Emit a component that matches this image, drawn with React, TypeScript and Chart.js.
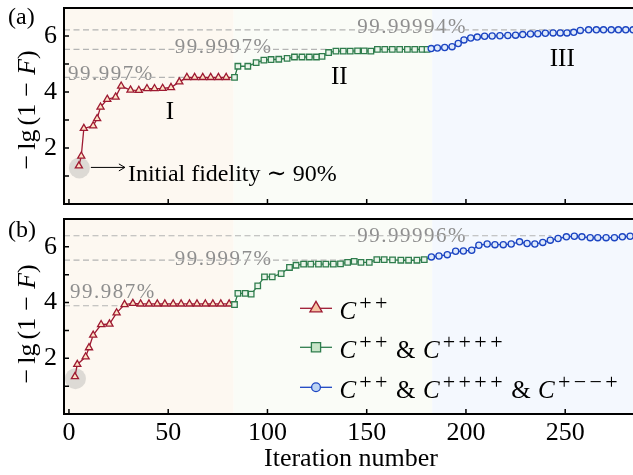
import React, { useEffect, useRef } from "react";
import { Chart, registerables } from "chart.js";

Chart.register(...registerables);

const SERIF = '"Liberation Serif", "Times New Roman", "DejaVu Serif", serif';

// ---------- panel (a) ----------
const aStage1X = [5, 6.2, 7.5, 12.2, 14.2, 15.9, 19.3, 23.5, 26.3, 31, 35.2, 39.3, 43.1, 47.2, 51.4, 55.6, 59.4, 63.3, 67.4, 71.4, 75.3, 79.2];
const aStage1Y = [1.36, 1.71, 2.7, 2.79, 3.05, 3.46, 3.74, 3.82, 4.21, 4.07, 4.06, 4.12, 4.12, 4.13, 4.16, 4.36, 4.52, 4.52, 4.52, 4.52, 4.52, 4.52];
const aStage2X = [83.4, 85.1, 90.1, 94.3, 98.2, 101.8, 105.7, 109.9, 113.6, 117.4, 121.1, 124.7, 127.5, 130.8, 134.5, 138.2, 141.7, 145.4, 148.7, 152.1, 155.4, 159.1, 162.9, 166.6, 170.5, 174.2, 177.9, 180.4];
const aStage2Y = [4.52, 4.92, 4.92, 5.05, 5.14, 5.16, 5.17, 5.2, 5.25, 5.25, 5.25, 5.25, 5.27, 5.41, 5.46, 5.46, 5.46, 5.47, 5.47, 5.46, 5.52, 5.52, 5.52, 5.52, 5.52, 5.52, 5.52, 5.52];
const aStage3X = [182.5, 185.6, 189.3, 193, 196.1, 199, 202.4, 205.7, 209.4, 213.2, 217.1, 221.1, 225, 228.6, 232.5, 236.2, 240, 243.9, 247.5, 250.9, 254.3, 257.6, 261.8, 265.7, 269.3, 273.2, 276.8, 280.5, 284.2];
const aStage3Y = [5.55, 5.57, 5.59, 5.62, 5.73, 5.86, 5.93, 5.96, 5.99, 6.0, 6.01, 6.02, 6.03, 6.05, 6.07, 6.08, 6.1, 6.11, 6.11, 6.11, 6.13, 6.2, 6.22, 6.22, 6.22, 6.22, 6.22, 6.22, 6.22];
const aFidelities = ["99.997", "99.9997", "99.99994"];

// ---------- panel (b) ----------
const bStage1X = [3.0, 4.2, 8.4, 10.1, 12.2, 16.2, 20.4, 24, 28, 32.2, 36.1, 40.3, 44.5, 48.3, 52.5, 56.5, 60.7, 64.5, 68.7, 72.5, 76.5, 80.7];
const bStage1Y = [1.34, 1.78, 2.05, 2.38, 2.83, 3.21, 3.23, 3.63, 3.93, 3.97, 3.95, 3.95, 3.95, 3.95, 3.95, 3.95, 3.95, 3.95, 3.95, 3.95, 3.95, 3.95];
const bStage2X = [83.4, 85.1, 88.8, 91.8, 95.1, 98.5, 102.4, 106.9, 111.1, 114.4, 118.2, 121.8, 125.7, 129.4, 133.2, 136.8, 140.4, 143.7, 147.1, 151.3, 155.1, 158.8, 163, 167.2, 171.1, 175.3, 179];
const bStage2Y = [3.93, 4.33, 4.33, 4.3, 4.6, 4.92, 4.92, 5.04, 5.26, 5.34, 5.38, 5.38, 5.38, 5.38, 5.38, 5.39, 5.44, 5.48, 5.44, 5.44, 5.54, 5.54, 5.53, 5.52, 5.52, 5.52, 5.54];
const bStage3X = [182.6, 186.4, 190.6, 194.8, 198.7, 202.9, 206.5, 210.7, 214.6, 218.8, 222.8, 227, 230.8, 234.7, 238.7, 242.5, 246.4, 250.6, 254.6, 258.4, 262.6, 266.4, 270.6, 274.8, 278.8, 282.7];
const bStage3Y = [5.64, 5.67, 5.72, 5.84, 5.85, 5.88, 6.06, 6.1, 6.08, 6.08, 6.1, 6.18, 6.12, 6.1, 6.16, 6.24, 6.3, 6.36, 6.38, 6.36, 6.33, 6.33, 6.33, 6.33, 6.36, 6.38];
const bFidelities = ["99.987", "99.9997", "99.99996"];

// ---------- shared axes ----------
const xTicks = [0, 50, 100, 150, 200, 250];
const yTicks = [1, 2, 3, 4, 5, 6];
const yTickLabels = [2, 4, 6];
const stageEdges = [83, 183];
const stageNames = ["I", "II", "III"];
const legendSigns = [["++"], ["++", "++++"], ["++", "++++", "+\u2212\u2212+"]];

const X_MIN = -2.5;
const X_MAX = 290;

const STYLE = [
  { color: "#9e1a32", fill: "#fde2c6", legendFill: "#f6c2a2", shape: "triangle", r: 4.1, lr: 7 },
  { color: "#2f7d4d", fill: "#eaf5ea", legendFill: "#c8e5c8", shape: "rect", r: 3.9, lr: 6.5 },
  { color: "#1c45c2", fill: "#dfeafb", legendFill: "#bcd4f3", shape: "circle", r: 3.1, lr: 4.4 },
];
const SHADES = ["#fdf8f1", "#fafcf7", "#f4f8fe"];

type Run = { t?: string; font?: string; w?: number; gap?: number; dy?: number };

function runsWidth(ctx: CanvasRenderingContext2D, runs: Run[]) {
  let w = 0;
  for (const r of runs) {
    if (r.gap) { w += r.gap; continue; }
    ctx.font = r.font!;
    w += r.w ?? ctx.measureText(r.t!).width;
  }
  return w;
}

function drawRuns(ctx: CanvasRenderingContext2D, runs: Run[], x0: number, y0: number) {
  let x = x0;
  ctx.textAlign = "left";
  ctx.textBaseline = "alphabetic";
  for (const r of runs) {
    if (r.gap) { x += r.gap; continue; }
    ctx.font = r.font!;
    const m = ctx.measureText(r.t!).width;
    const w = r.w ?? m;
    ctx.fillText(r.t!, x + (w - m) / 2, y0 + (r.dy ?? 0));
    x += w;
  }
  return x;
}

function drawMarker(ctx: CanvasRenderingContext2D, shape: string, cx: number, cy: number, r: number, stroke: string, fill: string) {
  ctx.beginPath();
  if (shape === "triangle") {
    for (let k = 0; k < 3; k++) {
      const a = -Math.PI / 2 + (k * 2 * Math.PI) / 3;
      const px = cx + r * Math.cos(a);
      const py = cy + r * Math.sin(a);
      if (k === 0) ctx.moveTo(px, py); else ctx.lineTo(px, py);
    }
    ctx.closePath();
  } else if (shape === "rect") {
    const s = r * Math.SQRT1_2;
    ctx.rect(cx - s, cy - s, 2 * s, 2 * s);
  } else {
    ctx.arc(cx, cy, r, 0, Math.PI * 2);
  }
  ctx.fillStyle = fill;
  ctx.fill();
  ctx.strokeStyle = stroke;
  ctx.lineWidth = 1.3;
  ctx.stroke();
}

type PanelSpec = {
  tag: string;
  xs: number[][];
  ys: number[][];
  fidelities: string[];
  refLabelX: number[];
  refLabelDy: number[];
  refEnd: number[];
  padTop: number;
  padBottom: number;
  height: number;
  titleY: number;
  tagY: number;
  bottomAxis: boolean;
  stageTags: { x: number; y: number }[] | null;
  initialNote: boolean;
  legend: boolean;
};

const panelA: PanelSpec = {
  tag: "(a)",
  xs: [aStage1X, aStage2X, aStage3X],
  ys: [aStage1Y, aStage2Y, aStage3Y],
  fidelities: aFidelities,
  refLabelX: [-0.5, 53.3, 145.2],
  refLabelDy: [2.5, 3.5, 3],
  refEnd: [59, 131, 255],
  padTop: 8,
  padBottom: 8,
  height: 212,
  titleY: 111,
  tagY: 24,
  bottomAxis: false,
  stageTags: [
    { x: 50.8, y: 3.03 },
    { x: 136.2, y: 4.27 },
    { x: 248.5, y: 4.92 },
  ],
  initialNote: true,
  legend: false,
};

const panelB: PanelSpec = {
  tag: "(b)",
  xs: [bStage1X, bStage2X, bStage3X],
  ys: [bStage1Y, bStage2Y, bStage3Y],
  fidelities: bFidelities,
  refLabelX: [0.5, 53.3, 145.2],
  refLabelDy: [-7.5, 5, 6],
  refEnd: [28, 143, 243],
  padTop: 7,
  padBottom: 61,
  height: 263,
  titleY: 113,
  tagY: 25,
  bottomAxis: true,
  stageTags: null,
  initialNote: false,
  legend: true,
};

function decorPlugin(spec: PanelSpec) {
  return {
    id: "panelDecor",
    beforeDatasetsDraw(chart: any) {
      const { ctx, chartArea: a } = chart;
      const x = chart.scales.x;
      const y = chart.scales.y;
      ctx.save();
      // stage shading
      const cuts = [a.left, x.getPixelForValue(stageEdges[0]), x.getPixelForValue(stageEdges[1]), a.right];
      SHADES.forEach((c, i) => {
        ctx.fillStyle = c;
        ctx.fillRect(cuts[i], a.top, cuts[i + 1] - cuts[i], a.bottom - a.top);
      });

      // grey disc around the starting point
      const p0x = x.getPixelForValue(spec.xs[0][0]);
      const p0y = y.getPixelForValue(spec.ys[0][0]);
      ctx.fillStyle = "rgba(150,150,150,0.3)";
      ctx.beginPath();
      ctx.arc(p0x + 0.5, p0y + 2, 10.5, 0, Math.PI * 2);
      ctx.fill();

      // reference fidelity levels
      spec.fidelities.forEach((f, i) => {
        const level = -Math.log10(1 - parseFloat(f) / 100);
        const py = y.getPixelForValue(level);
        ctx.font = `21px ${SERIF}`;
        ctx.letterSpacing = "1.5px";
        ctx.fillStyle = "#8e8e8e";
        ctx.textAlign = "left";
        ctx.textBaseline = "alphabetic";
        ctx.fillText(f + "%", x.getPixelForValue(spec.refLabelX[i]), py + spec.refLabelDy[i]);
        ctx.letterSpacing = "0px";
        ctx.strokeStyle = "#b4b4b4";
        ctx.lineWidth = 1.2;
        ctx.setLineDash([6, 3.5]);
        ctx.beginPath();
        ctx.moveTo(a.left, py);
        ctx.lineTo(x.getPixelForValue(spec.refEnd[i]), py);
        ctx.stroke();
        ctx.setLineDash([]);
      });
      ctx.restore();
    },
    afterDatasetsDraw(chart: any) {
      const { ctx, chartArea: a } = chart;
      const x = chart.scales.x;
      const y = chart.scales.y;
      ctx.save();

      // frame
      ctx.strokeStyle = "#000";
      ctx.lineWidth = 2;
      ctx.beginPath();
      ctx.moveTo(a.right + 4, a.top);
      ctx.lineTo(a.left, a.top);
      ctx.lineTo(a.left, a.bottom);
      ctx.lineTo(a.right + 4, a.bottom);
      ctx.stroke();

      // inward tick marks
      ctx.lineWidth = 1.5;
      ctx.beginPath();
      yTicks.forEach((v) => {
        const py = y.getPixelForValue(v);
        ctx.moveTo(a.left, py);
        ctx.lineTo(a.left + 5, py);
      });
      xTicks.forEach((v) => {
        const px = x.getPixelForValue(v);
        ctx.moveTo(px, a.bottom);
        ctx.lineTo(px, a.bottom - 5);
      });
      ctx.stroke();

      // tick labels
      ctx.fillStyle = "#000";
      ctx.font = `26px ${SERIF}`;
      ctx.textAlign = "right";
      ctx.textBaseline = "middle";
      yTickLabels.forEach((v) => ctx.fillText(String(v), a.left - 7, y.getPixelForValue(v)));

      if (spec.bottomAxis) {
        ctx.textAlign = "center";
        ctx.textBaseline = "alphabetic";
        xTicks.forEach((v) => ctx.fillText(String(v), x.getPixelForValue(v), a.bottom + 26));
        ctx.fillText("Iteration number", 351, a.bottom + 52);
      }

      // y-axis title
      const up = `26px ${SERIF}`;
      const it = `italic 26px ${SERIF}`;
      const title: Run[] = [
        { t: "\u2212", font: up, w: 19 },
        { gap: 3 },
        { t: "lg", font: up },
        { gap: 4 },
        { t: "(1", font: up },
        { gap: 5 },
        { t: "\u2212", font: up, w: 19 },
        { gap: 5 },
        { t: "F", font: it },
        { t: ")", font: up },
      ];
      const tw = runsWidth(ctx, title);
      ctx.save();
      ctx.translate(34.5, spec.titleY);
      ctx.rotate(-Math.PI / 2);
      drawRuns(ctx, title, -tw / 2, 0);
      ctx.restore();

      // panel tag
      ctx.font = `24px ${SERIF}`;
      ctx.textAlign = "left";
      ctx.textBaseline = "alphabetic";
      ctx.fillText(spec.tag, 8, spec.tagY);

      // stage names
      if (spec.stageTags) {
        ctx.font = `25px ${SERIF}`;
        ctx.textAlign = "center";
        spec.stageTags.forEach((p, i) => ctx.fillText(stageNames[i], x.getPixelForValue(p.x), y.getPixelForValue(p.y)));
      }

      // starting point note
      if (spec.initialNote) {
        const p0x = x.getPixelForValue(spec.xs[0][0]);
        const p0y = y.getPixelForValue(spec.ys[0][0]) + 1.5;
        const ax0 = p0x + 12;
        const ax1 = p0x + 46;
        ctx.strokeStyle = "#000";
        ctx.lineWidth = 1;
        ctx.beginPath();
        ctx.moveTo(ax0, p0y);
        ctx.lineTo(ax1, p0y);
        ctx.moveTo(ax1 - 6, p0y - 3.5);
        ctx.lineTo(ax1, p0y);
        ctx.lineTo(ax1 - 6, p0y + 3.5);
        ctx.stroke();
        ctx.font = `24px ${SERIF}`;
        ctx.textAlign = "left";
        ctx.fillText("Initial fidelity \u223C 90%", p0x + 49, p0y + 13.5);
      }

      // legend
      if (spec.legend) {
        const rowY = [96.3, 135.3, 175.3];
        const it25 = `italic 25px ${SERIF}`;
        const up25 = `25px ${SERIF}`;
        const sup = `22px ${SERIF}`;
        chart.data.datasets.forEach((ds: any, i: number) => {
          const st = STYLE[i];
          const ly = rowY[i];
          ctx.strokeStyle = st.color;
          ctx.lineWidth = 1.3;
          ctx.beginPath();
          ctx.moveTo(300, ly);
          ctx.lineTo(332, ly);
          ctx.stroke();
          drawMarker(ctx, st.shape, 316, ly, st.lr, st.color, st.legendFill);
          const runs: Run[] = [];
          legendSigns[i].forEach((signs, j) => {
            if (j > 0) {
              runs.push({ gap: 7 });
              runs.push({ t: "&", font: up25 });
              runs.push({ gap: 6 });
            }
            runs.push({ t: "C", font: it25, w: 19.5 });
            for (const s of signs) runs.push({ t: s === "+" ? "+" : "\u2212", font: sup, w: 15.8, dy: -8.5 });
          });
          ctx.fillStyle = "#000";
          drawRuns(ctx, runs, 338, ly + 10.5);
        });
      }
      ctx.restore();
    },
  };
}

function buildConfig(spec: PanelSpec): any {
  const labels = ["C++", "C++ & C++++", "C++ & C++++ & C+--+"];
  const datasets = spec.xs.map((xs, i) => {
    const ys = spec.ys[i];
    const st = STYLE[i];
    const pts = xs.map((v, k) => ({ x: v, y: ys[k] }));
    const n = pts.length;
    // the trace runs on into the first point of the next stage
    if (i + 1 < spec.xs.length) pts.push({ x: spec.xs[i + 1][0], y: spec.ys[i + 1][0] });
    return {
      label: labels[i],
      data: pts,
      borderColor: st.color,
      borderWidth: 1.3,
      pointStyle: st.shape,
      pointRadius: (c: any) => (c.dataIndex < n ? st.r : 0),
      pointHoverRadius: 0,
      pointBackgroundColor: st.fill,
      pointBorderColor: st.color,
      pointBorderWidth: 1.3,
      tension: 0,
      fill: false,
      order: 3 - i,
    };
  });
  return {
    type: "line",
    data: { datasets },
    options: {
      responsive: false,
      animation: false,
      devicePixelRatio: 1,
      events: [],
      layout: { padding: { left: 64, right: 4, top: spec.padTop, bottom: spec.padBottom } },
      plugins: { legend: { display: false }, tooltip: { enabled: false } },
      scales: {
        x: { type: "linear", display: false, min: X_MIN, max: X_MAX },
        y: { type: "linear", display: false, min: 0, max: 7 },
      },
    },
    plugins: [decorPlugin(spec)],
  };
}

function Panel({ spec, top }: { spec: PanelSpec; top: number }) {
  const ref = useRef<HTMLCanvasElement>(null);
  useEffect(() => {
    const chart = new Chart(ref.current!, buildConfig(spec));
    return () => chart.destroy();
  }, [spec]);
  return (
    <canvas
      ref={ref}
      width={650}
      height={spec.height}
      style={{ position: "absolute", left: 0, top, width: 650, height: spec.height }}
    />
  );
}

export default function App() {
  return (
    <div
      style={{
        position: "fixed",
        left: 0,
        top: 0,
        width: 633,
        height: 475,
        overflow: "hidden",
        background: "#fff",
      }}
    >
      <Panel spec={panelA} top={0} />
      <Panel spec={panelB} top={212} />
    </div>
  );
}
